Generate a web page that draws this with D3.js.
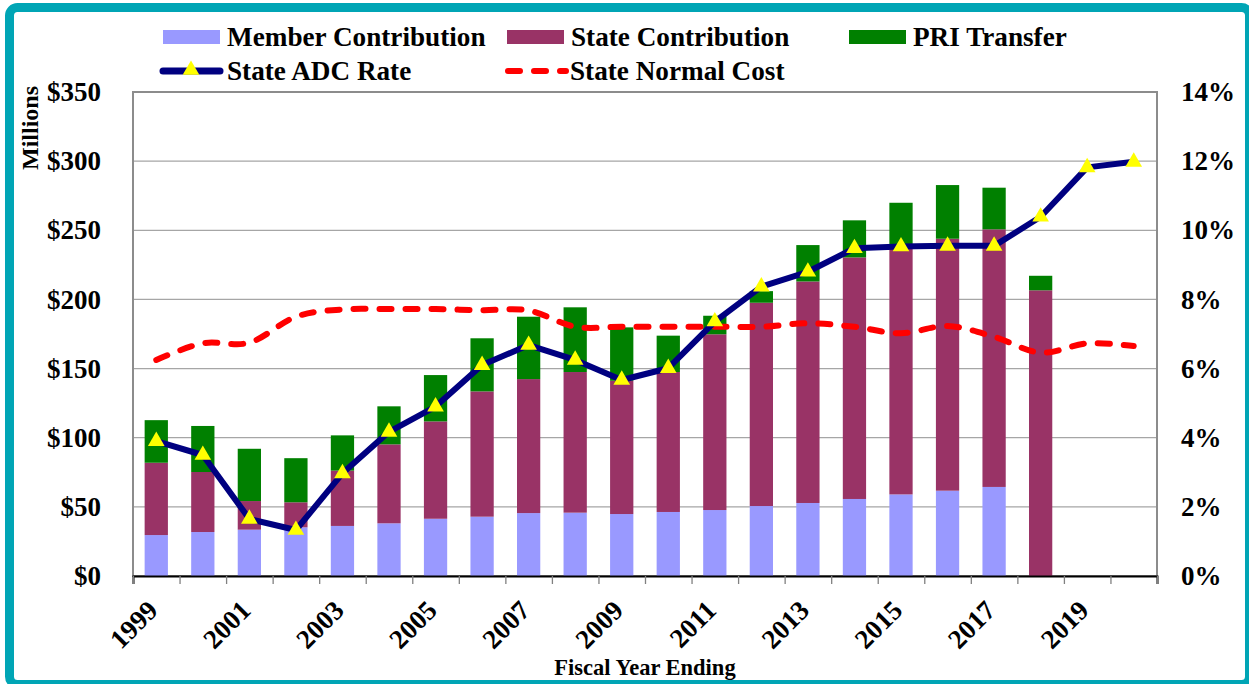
<!DOCTYPE html>
<html>
<head>
<meta charset="utf-8">
<script src="https://cdn.jsdelivr.net/npm/d3@7"></script>
<style>
  html, body { margin: 0; padding: 0; background: #fff; }
  svg { display: block; font-family: "Liberation Serif", "Times New Roman", serif; font-weight: bold; }
</style>
</head>
<body>
<div id="chart"></div>
<script>
// Contributions (millions) stacked bars + rates (%) lines
const years = [1999, 2000, 2001, 2002, 2003, 2004, 2005, 2006, 2007, 2008, 2009,
  2010, 2011, 2012, 2013, 2014, 2015, 2016, 2017, 2018, 2019, 2020];
const memberContribution = [29.6, 31.8, 33.5, 35.2, 36.2, 38.1, 41.4, 42.9, 45.5, 45.8, 44.8,
  46.3, 47.7, 50.6, 52.8, 55.7, 59.0, 61.7, 64.4, 0, 0, 0];
const stateContribution = [52.3, 43.4, 20.7, 18.1, 40.0, 57.1, 70.4, 90.6, 96.9, 101.7, 96.4,
  101.2, 127.1, 147.0, 160.2, 174.7, 178.7, 182.2, 186.3, 206.6, 0, 0];
const priTransfer = [30.8, 33.3, 37.8, 31.9, 25.5, 27.5, 33.5, 38.4, 45.1, 46.8, 38.6,
  26.3, 13.4, 8.4, 26.3, 26.8, 32.2, 38.8, 30.1, 10.5, 0, 0];
const stateAdcRate = [3.9, 3.5, 1.65, 1.33, 2.97, 4.17, 4.9, 6.1, 6.68, 6.25, 5.67,
  6.01, 7.36, 8.37, 8.8, 9.48, 9.53, 9.55, 9.55, 10.39, 11.82, 11.98];
const stateNormalCost = [6.25, 6.73, 6.75, 7.5, 7.71, 7.72, 7.72, 7.69, 7.68, 7.21, 7.21,
  7.21, 7.21, 7.21, 7.31, 7.21, 7.02, 7.23, 6.92, 6.46, 6.73, 6.65];
const leftTicks = [0, 50, 100, 150, 200, 250, 300, 350];
const rightTicks = [0, 2, 4, 6, 8, 10, 12, 14];
const xLabelYears = [1999, 2001, 2003, 2005, 2007, 2009, 2011, 2013, 2015, 2017, 2019];

const W = 1249, H = 684;
const plot = { left: 133, right: 1157, top: 92, bottom: 576 };

const svg = d3.select("#chart").append("svg").attr("width", W).attr("height", H);

// outer teal frame
svg.append("rect")
  .attr("x", 9.5).attr("y", 7.5)
  .attr("width", 1240).attr("height", 677)
  .attr("rx", 8)
  .attr("fill", "#fff")
  .attr("stroke", "#00A5B5")
  .attr("stroke-width", 9);

const x = d3.scaleBand().domain(years).range([plot.left, plot.right]).padding(0);
const xEdge = d3.scaleLinear().domain([0, years.length]).range([plot.left, plot.right]);
const yL = d3.scaleLinear().domain([0, 350]).range([plot.bottom, plot.top]);
const yR = d3.scaleLinear().domain([0, 14]).range([plot.bottom, plot.top]);

// gridlines
svg.append("g")
  .selectAll("line").data(leftTicks.slice(1, -1)).join("line")
  .attr("x1", plot.left).attr("x2", plot.right)
  .attr("y1", d => yL(d)).attr("y2", d => yL(d))
  .attr("stroke", "#a6a6a6").attr("stroke-width", 1.3);

// plot frame
svg.append("rect")
  .attr("x", plot.left).attr("y", plot.top)
  .attr("width", plot.right - plot.left).attr("height", plot.bottom - plot.top)
  .attr("fill", "none").attr("stroke", "#8c8c8c").attr("stroke-width", 2);

// stacked bars
const rows = years.map((yr, i) => ({
  year: yr,
  member: memberContribution[i],
  state: stateContribution[i],
  pri: priTransfer[i]
}));
const stack = d3.stack().keys(["member", "state", "pri"])(rows);
const colors = { member: "#9999FF", state: "#993366", pri: "#008000" };
const bw = x.bandwidth() * 0.5;

svg.append("g").selectAll("g").data(stack).join("g")
  .attr("fill", d => colors[d.key])
  .selectAll("rect").data(d => d).join("rect")
  .attr("x", d => x(d.data.year) + (x.bandwidth() - bw) / 2)
  .attr("width", bw)
  .attr("y", d => yL(d[1]))
  .attr("height", d => yL(d[0]) - yL(d[1]));

// bottom axis (ticks at category edges)
const xAxis = d3.axisBottom(xEdge).tickValues(d3.range(years.length + 1)).tickFormat("").tickSize(8);
const gx = svg.append("g").attr("transform", `translate(0,${plot.bottom})`).call(xAxis);
gx.select(".domain").attr("stroke", "#000").attr("stroke-width", 2);
gx.selectAll(".tick line").attr("stroke", "#808080").attr("stroke-width", 1.3);

svg.append("g").selectAll("text").data(xLabelYears).join("text")
  .attr("transform", d => `translate(${x(d) + x.bandwidth() / 2 + 3},${plot.bottom + 36}) rotate(-45)`)
  .attr("text-anchor", "end")
  .attr("font-size", 27)
  .text(d => d);

// left axis
const gyL = svg.append("g").attr("transform", `translate(${plot.left},0)`)
  .call(d3.axisLeft(yL).tickValues(leftTicks).tickSize(0).tickPadding(32).tickFormat(d => "$" + d))
  .attr("font-family", null).attr("font-size", 27);
gyL.select(".domain").remove();
gyL.selectAll("text").attr("fill", "#000");

// right axis
const gyR = svg.append("g").attr("transform", `translate(${plot.right},0)`)
  .call(d3.axisRight(yR).tickValues(rightTicks).tickSize(0).tickPadding(24).tickFormat(d => d + "%"))
  .attr("font-family", null).attr("font-size", 27);
gyR.select(".domain").remove();
gyR.selectAll("text").attr("fill", "#000");

// axis titles
svg.append("text")
  .attr("transform", "translate(38,128) rotate(-90)")
  .attr("text-anchor", "middle")
  .attr("font-size", 24)
  .text("Millions");
svg.append("text")
  .attr("x", (plot.left + plot.right) / 2).attr("y", 675)
  .attr("text-anchor", "middle")
  .attr("font-size", 22.5)
  .text("Fiscal Year Ending");

// lines
const cx = i => x(years[i]) + x.bandwidth() / 2;
const normalLine = d3.line().x((d, i) => cx(i)).y(d => yR(d)).curve(d3.curveCardinal.tension(0));
svg.append("path")
  .datum(stateNormalCost)
  .attr("d", normalLine)
  .attr("fill", "none")
  .attr("stroke", "#FF0000")
  .attr("stroke-width", 6)
  .attr("stroke-linecap", "round")
  .attr("stroke-dasharray", "12,14");

const adcLine = d3.line().x((d, i) => cx(i)).y(d => yR(d));
svg.append("path")
  .datum(stateAdcRate)
  .attr("d", adcLine)
  .attr("fill", "none")
  .attr("stroke", "#000080")
  .attr("stroke-width", 6)
  .attr("stroke-linejoin", "round");

const tri = d3.symbol().type(d3.symbolTriangle).size(120);
svg.append("g").selectAll("path").data(stateAdcRate).join("path")
  .attr("transform", (d, i) => `translate(${cx(i)},${yR(d)})`)
  .attr("d", tri)
  .attr("fill", "#FFFF00");

// legend
const lg = svg.append("g").attr("font-size", 27.2);
const barLegend = [
  { label: "Member Contribution", color: colors.member, x: 163 },
  { label: "State Contribution", color: colors.state, x: 507 },
  { label: "PRI Transfer", color: colors.pri, x: 849 }
];
barLegend.forEach(d => {
  lg.append("rect").attr("x", d.x).attr("y", 30).attr("width", 57).attr("height", 14).attr("fill", d.color);
  lg.append("text").attr("x", d.x + 64).attr("y", 46).text(d.label);
});
// ADC legend
lg.append("line").attr("x1", 163).attr("x2", 220).attr("y1", 71).attr("y2", 71)
  .attr("stroke", "#000080").attr("stroke-width", 7).attr("stroke-linecap", "round");
lg.append("path").attr("transform", "translate(191,70)").attr("d", tri).attr("fill", "#FFFF00");
lg.append("text").attr("x", 227).attr("y", 80).text("State ADC Rate");
// normal cost legend
lg.append("line").attr("x1", 508).attr("x2", 566).attr("y1", 71).attr("y2", 71)
  .attr("stroke", "#FF0000").attr("stroke-width", 6).attr("stroke-linecap", "round")
  .attr("stroke-dasharray", "12,14");
lg.append("text").attr("x", 570).attr("y", 80).text("State Normal Cost");
</script>
</body>
</html>
